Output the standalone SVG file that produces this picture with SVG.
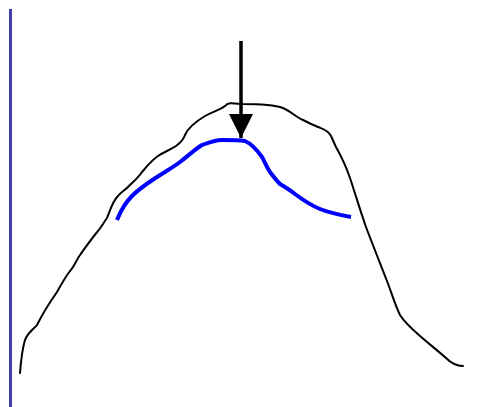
<svg xmlns="http://www.w3.org/2000/svg" width="483" height="407" viewBox="0 0 483 407">
<style>
.k{fill:none;stroke:#000;stroke-width:2;stroke-linecap:round;stroke-linejoin:round}
.b{fill:none;stroke:#0000ff;stroke-width:4;stroke-linecap:butt;stroke-linejoin:round}
.ax{fill:none;stroke:#3f3fae;stroke-width:3}
</style>
<defs>
<marker id="ah" markerUnits="userSpaceOnUse" markerWidth="26" markerHeight="26" viewBox="0 0 26 26" refX="24" refY="13" orient="auto">
<path d="M0,1 L24,13 L0,25 Z" fill="#000"/>
</marker>
</defs>
<line class="ax" x1="10.5" y1="9" x2="10.5" y2="407"/>
<path class="k" d="M20,373 C21,360 22,350 25,340 C28,332 33,330 37,325 C42,315 50,302 57,292 C62,283 66,276 70,271 C74,267 77,259 80,255 C85,248 92,238 98,231 C102,226 104,222 107,218 C110,211 112,202 118,196 C121,192 125,190 128,187 C133,182 138,178 142,172 C147,166 152,160 158,156 C164,152 170,150 176,146 C180,143 183,141 185,135 C188,128 195,122 205,116 C214,111 220,110 225,106 C228,102 232,103 242,104 C255,104 272,104 283,108 C290,111 296,117 303,120 C309,123 313,125 318,127 C323,129 328,130 331,136 C333,140 334,143 336,147 C341,156 346,166 350,178 C356,196 360,210 366,227 C372,243 380,263 387,281 C392,294 395,305 400,315 C405,323 412,329 420,336 C428,343 437,350 446,358 C452,364 457,366 463,366"/>
<path class="b" d="M117,220 C121,210 126,202 132,196 C140,188 148,183 157,177 C166,171 172,168 180,162 C188,156 194,150 202,145 C210,142 216,140 222,140 C230,140 238,140 245,141 C252,144 257,150 262,157 C265,162 266,166 270,172 C273,176 276,180 280,184 C285,187 290,190 295,194 C303,200 310,205 320,209 C330,213 340,215 351,217"/>
<line x1="241" y1="41" x2="241" y2="138" stroke="#000" stroke-width="3.5" marker-end="url(#ah)"/>
</svg>
